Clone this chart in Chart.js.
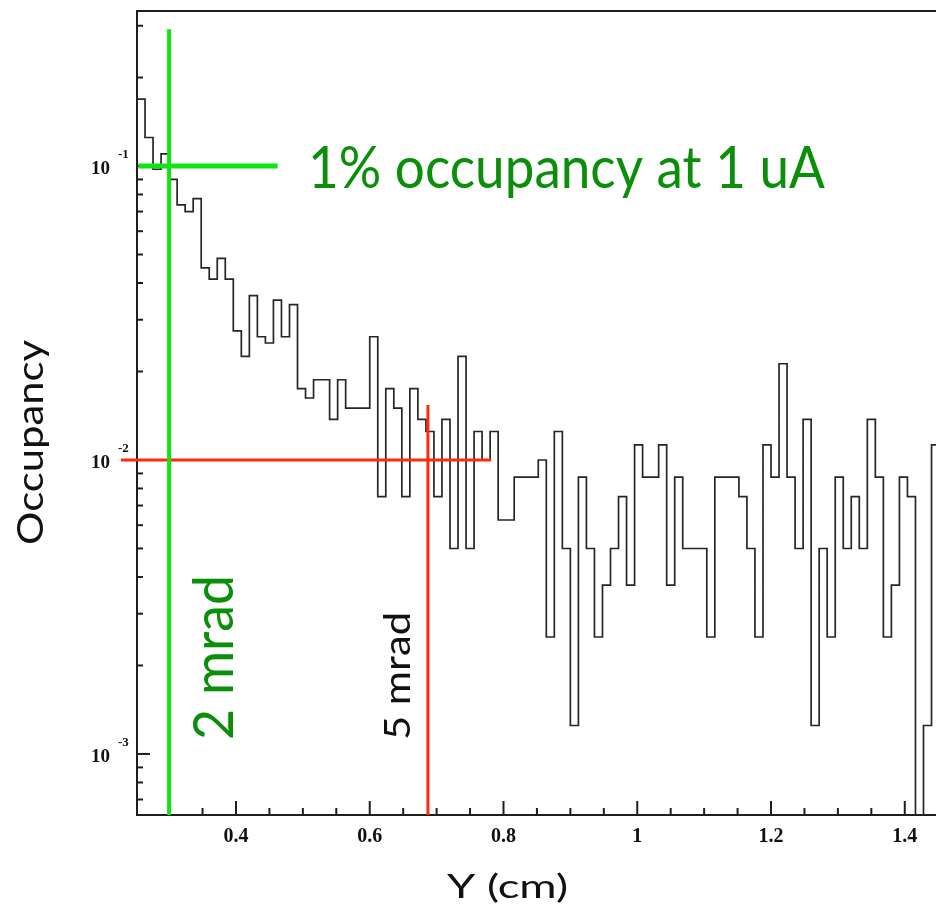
<!DOCTYPE html>
<html>
<head>
<meta charset="utf-8">
<script src="https://cdn.jsdelivr.net/npm/chart.js@4.4.1/dist/chart.umd.min.js"></script>
<style>
  html, body { margin: 0; padding: 0; background: #ffffff; }
  #wrap { position: relative; width: 936px; height: 910px; }
</style>
</head>
<body>
<div id="wrap"><canvas id="occ" width="936" height="910"></canvas></div>
<script>
// Histogram binning along Y (cm)
const BIN_LOW = 0.252;
const BIN_WIDTH = 0.012;

// Occupancy per bin (0 = empty bin)
const OCCUPANCY = [
  0.16875, 0.125, 0.0975, 0.11, 0.09, 0.07375, 0.07, 0.0775, 0.045, 0.04125,
  0.0485, 0.04125, 0.0275, 0.0225, 0.03625, 0.02625, 0.025, 0.035, 0.02625, 0.03375,
  0.0175, 0.01625, 0.01875, 0.01875, 0.01375, 0.01875, 0.015, 0.015, 0.015, 0.02625,
  0.0075, 0.0175, 0.015, 0.0075, 0.0175, 0.01375, 0.0125, 0.0075, 0.01375, 0.005,
  0.0225, 0.005, 0.0125, 0.01, 0.0125, 0.00625, 0.00625, 0.00875, 0.00875, 0.00875,
  0.01, 0.0025, 0.0125, 0.005, 0.00125, 0.00875, 0.005, 0.0025, 0.00375, 0.005,
  0.0075, 0.00375, 0.01125, 0.00875, 0.00875, 0.01125, 0.00375, 0.00875, 0.005, 0.005,
  0.005, 0.0025, 0.00875, 0.00875, 0.00875, 0.0075, 0.005, 0.0025, 0.01125, 0.00875,
  0.02125, 0.00875, 0.005, 0.01375, 0.00125, 0.005, 0.0025, 0.00875, 0.005, 0.0075,
  0.005, 0.01375, 0.00875, 0.0025, 0.00375, 0.00875, 0.0075, 0, 0.00125, 0.01125
];

// Axis ranges
const X_MIN = 0.252, X_MAX = 1.4467;
const Y_MIN = 6.2e-4, Y_MAX = 0.3367;

// Axis tick labels
const X_MAJOR_TICKS = [0.4, 0.6, 0.8, 1.0, 1.2, 1.4];
const X_TICK_LABELS = ['0.4', '0.6', '0.8', '1', '1.2', '1.4'];
const Y_DECADES = [0.1, 0.01, 0.001];
const Y_EXPONENTS = ['-1', '-2', '-3'];

// Reference cuts
const CUT_2MRAD_X = 0.3, CUT_2MRAD_TOP = 0.292;
const LEVEL_1PCT_Y = 0.1, LEVEL_1PCT_X0 = 0.2542, LEVEL_1PCT_X1 = 0.4623;
const CUT_5MRAD_X = 0.687, CUT_5MRAD_TOP = 0.01538;
const LEVEL_5MRAD_Y = 0.01, LEVEL_5MRAD_X0 = 0.2279, LEVEL_5MRAD_X1 = 0.7817;

// Step outline: one point per bin low edge, plus the closing edge
const points = OCCUPANCY.map((v, i) => ({ x: BIN_LOW + i * BIN_WIDTH, y: v > 0 ? v : Y_MIN }));
points.push({ x: BIN_LOW + OCCUPANCY.length * BIN_WIDTH, y: points[points.length - 1].y });

// Minor x ticks every 0.05
const X_TICK_VALUES = [];
for (let k = 6; k <= 28; k++) X_TICK_VALUES.push(Math.round(k * 5) / 100);

function isMajorX(v) { return X_MAJOR_TICKS.some(m => Math.abs(m - v) < 1e-6); }

function drawFitted(ctx, text, x, y, font, color, width, angle) {
  ctx.save();
  ctx.font = font;
  ctx.fillStyle = color;
  ctx.textAlign = 'left';
  ctx.textBaseline = 'alphabetic';
  ctx.translate(x, y);
  if (angle) ctx.rotate(angle);
  const w = ctx.measureText(text).width;
  ctx.scale(width / w, 1);
  ctx.fillText(text, 0, 0);
  ctx.restore();
}

const frameAndMarks = {
  id: 'frameAndMarks',
  beforeDatasetsDraw(chart) {
    const { ctx, chartArea: a, scales: { x, y } } = chart;
    ctx.save();
    ctx.strokeStyle = '#1e1e1e';
    ctx.lineWidth = 2;
    // top frame
    ctx.beginPath();
    ctx.moveTo(a.left, a.top);
    ctx.lineTo(a.right, a.top);
    ctx.stroke();
    // x ticks, pointing inward
    x.ticks.forEach(t => {
      const px = x.getPixelForValue(t.value);
      const len = isMajorX(t.value) ? 14 : 7;
      ctx.beginPath();
      ctx.moveTo(px, a.bottom);
      ctx.lineTo(px, a.bottom - len);
      ctx.stroke();
    });
    // y ticks (log decades and sub-decades), pointing inward
    for (let e = -4; e <= 0; e++) {
      for (let m = 1; m <= 9; m++) {
        const v = m * Math.pow(10, e);
        if (v < Y_MIN || v > Y_MAX) continue;
        const py = y.getPixelForValue(v);
        const len = m === 1 ? 13 : 6;
        ctx.beginPath();
        ctx.moveTo(a.left, py);
        ctx.lineTo(a.left + len, py);
        ctx.stroke();
      }
    }
    // y labels: 10 with exponent
    ctx.fillStyle = '#111';
    ctx.textBaseline = 'middle';
    ctx.textAlign = 'left';
    Y_DECADES.forEach((v, i) => {
      const py = y.getPixelForValue(v);
      ctx.font = 'bold 19px "Liberation Serif"';
      ctx.fillText('10', 91, py + 3);
      ctx.font = 'bold 13px "Liberation Serif"';
      ctx.fillText(Y_EXPONENTS[i], 118, py - 11);
    });
    ctx.restore();
  },
  afterDatasetsDraw(chart) {
    const { ctx, scales: { x, y } } = chart;
    const green = '#12e312', red = '#ff2a10';
    function seg(x0, y0, x1, y1, color, w) {
      ctx.save();
      ctx.strokeStyle = color;
      ctx.lineWidth = w;
      ctx.beginPath();
      ctx.moveTo(x.getPixelForValue(x0), y.getPixelForValue(y0));
      ctx.lineTo(x.getPixelForValue(x1), y.getPixelForValue(y1));
      ctx.stroke();
      ctx.restore();
    }
    seg(LEVEL_5MRAD_X0, LEVEL_5MRAD_Y, LEVEL_5MRAD_X1, LEVEL_5MRAD_Y, red, 3);
    seg(CUT_5MRAD_X, Y_MIN, CUT_5MRAD_X, CUT_5MRAD_TOP, red, 3);
    seg(LEVEL_1PCT_X0, LEVEL_1PCT_Y, LEVEL_1PCT_X1, LEVEL_1PCT_Y, green, 5);
    seg(CUT_2MRAD_X, Y_MIN, CUT_2MRAD_X, CUT_2MRAD_TOP, green, 4);
  },
  afterDraw(chart) {
    const ctx = chart.ctx;
    const darkGreen = '#0b8f0b';
    drawFitted(ctx, '1% occupancy at 1 uA', 308, 188, '58px Lato', darkGreen, 517, 0);
    drawFitted(ctx, '2 mrad', 233, 740, '56px Lato', darkGreen, 165, -Math.PI / 2);
    drawFitted(ctx, '5 mrad', 410, 740, '37px Lato', '#111', 128, -Math.PI / 2);
    drawFitted(ctx, 'Occupancy', 43, 545, '36px Lato', '#111', 205, -Math.PI / 2);
    drawFitted(ctx, 'Y (cm)', 447, 898, '33px Lato', '#111', 121, 0);
  }
};

new Chart(document.getElementById('occ').getContext('2d'), {
  type: 'line',
  data: {
    datasets: [{
      data: points,
      stepped: 'before',
      borderColor: '#262626',
      borderWidth: 1.7,
      pointRadius: 0,
      fill: false,
      tension: 0
    }]
  },
  options: {
    responsive: false,
    animation: false,
    devicePixelRatio: 1,
    layout: { padding: { top: 11, right: 0, left: 0, bottom: 0 } },
    plugins: { legend: { display: false }, tooltip: { enabled: false } },
    scales: {
      x: {
        type: 'linear',
        min: X_MIN,
        max: X_MAX,
        bounds: 'data',
        grid: { display: false, drawTicks: false },
        border: { display: true, color: '#1e1e1e', width: 2 },
        afterBuildTicks: s => { s.ticks = X_TICK_VALUES.map(v => ({ value: v })); },
        afterFit: s => { s.height = 95; },
        ticks: {
          autoSkip: false,
          maxRotation: 0,
          padding: 10,
          color: '#111',
          font: { family: 'Liberation Serif', weight: 'bold', size: 20 },
          callback: v => {
            const i = X_MAJOR_TICKS.findIndex(m => Math.abs(m - v) < 1e-6);
            return i >= 0 ? X_TICK_LABELS[i] : '';
          }
        }
      },
      y: {
        type: 'logarithmic',
        min: Y_MIN,
        max: Y_MAX,
        bounds: 'data',
        grid: { display: false, drawTicks: false },
        border: { display: true, color: '#1e1e1e', width: 2 },
        ticks: { display: false },
        afterFit: s => { s.width = 137; }
      }
    }
  },
  plugins: [frameAndMarks]
});
</script>
</body>
</html>
